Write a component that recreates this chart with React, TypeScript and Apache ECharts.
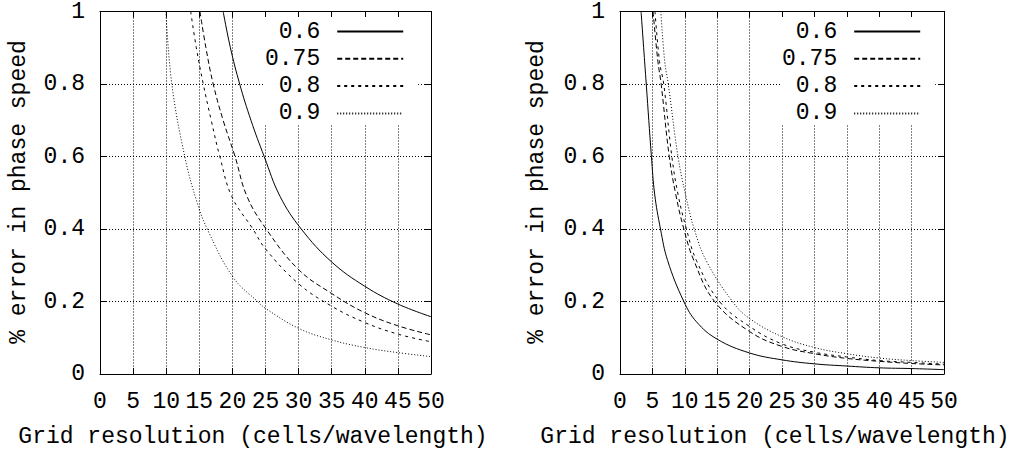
import React, { useEffect, useRef } from "react";
import * as echarts from "echarts";

// ---- data ----
const courantNumbers = ["0.6", "0.75", "0.8", "0.9"];

// Left panel: % error in phase speed vs grid resolution
const left06 = [[18.6, 1.0], [19.7, 0.9], [21.1, 0.8], [22.8, 0.7], [24.8, 0.6], [27.2, 0.49], [30.4, 0.4], [35, 0.309], [40, 0.242], [45, 0.193], [50, 0.158]];
const left075 = [[15.1, 1.0], [16.0, 0.9], [17.1, 0.8], [18.6, 0.7], [20.4, 0.6], [22.2, 0.49], [25.1, 0.4], [30, 0.288], [35, 0.222], [40, 0.169], [45, 0.133], [50, 0.108]];
const left08 = [[13.7, 1.0], [14.55, 0.9], [15.6, 0.8], [16.8, 0.7], [18.1, 0.6], [19.9, 0.49], [23.1, 0.4], [25, 0.345], [30, 0.249], [35, 0.187], [40, 0.142], [45, 0.11], [50, 0.089]];
const left09 = [[9.95, 1.0], [10.85, 0.8], [12.8, 0.6], [14.6, 0.477], [16.2, 0.4], [20.1, 0.267], [23.8, 0.2], [25, 0.181], [30, 0.126], [35, 0.094], [40, 0.073], [45, 0.059], [50, 0.048]];

// Right panel
const right06 = [[3.25, 1.0], [3.65, 0.9], [4.05, 0.8], [4.85, 0.6], [5.35, 0.496], [6.25, 0.4], [7.35, 0.313], [9.85, 0.2], [11.8, 0.144], [15, 0.096], [20, 0.058], [25, 0.039], [30, 0.028], [35, 0.022], [40, 0.017], [45, 0.015], [50, 0.012]];
const right075 = [[5.1, 1.0], [5.85, 0.862], [6.35, 0.8], [7.6, 0.6], [8.6, 0.496], [9.85, 0.4], [11.4, 0.313], [14.6, 0.2], [20, 0.117], [25, 0.076], [30, 0.056], [35, 0.043], [40, 0.035], [45, 0.029], [50, 0.025]];
const right08 = [[5.4, 1.0], [6.1, 0.862], [6.75, 0.8], [8.0, 0.6], [8.95, 0.496], [10.25, 0.4], [11.8, 0.313], [15.35, 0.2], [20, 0.131], [25, 0.083], [30, 0.06], [35, 0.047], [40, 0.037], [45, 0.032], [50, 0.027]];
const right09 = [[6.3, 1.0], [6.9, 0.862], [7.45, 0.8], [8.95, 0.6], [10.1, 0.496], [11.45, 0.4], [13.3, 0.313], [17.35, 0.2], [20, 0.153], [25, 0.103], [30, 0.073], [35, 0.056], [40, 0.044], [45, 0.037], [50, 0.032]];

const xRange = { min: 0, max: 50, interval: 5 };
const yRange = { min: 0, max: 1, interval: 0.2 };

const xTitle = "Grid resolution (cells/wavelength)";
const yTitle = "% error in phase speed";

// ---- styles ----
const FONT = "'Liberation Mono', 'Courier New', monospace";
const FS = 23;
const dashes: any[] = ["solid", [5, 3], [3, 4], [1, 2]];

export default function App() {
  const ref = useRef<HTMLDivElement>(null);

  useEffect(() => {
    if (!ref.current) return;
    const chart = echarts.init(ref.current, null, { renderer: "svg" });

    const grids = [
      { left: 100, top: 10, width: 331, height: 364 },
      { left: 620, top: 10, width: 324, height: 364 },
    ];

    const mkX = (gi: number, pos: "bottom" | "top") => ({
      type: "value",
      gridIndex: gi,
      position: pos,
      ...xRange,
      axisLine: { show: true, onZero: false, lineStyle: { color: "#000", width: 1 } },
      axisTick: { show: true, inside: true, length: 6, lineStyle: { color: "#000" } },
      axisLabel: pos === "bottom"
        ? { show: true, color: "#000", fontFamily: FONT, fontSize: FS, margin: 16 }
        : { show: false },
      splitLine: pos === "bottom"
        ? { show: true, lineStyle: { color: "#000", width: 1, type: [1, 2] } }
        : { show: false },
    });
    const mkY = (gi: number, pos: "left" | "right") => ({
      type: "value",
      gridIndex: gi,
      position: pos,
      ...yRange,
      axisLine: { show: true, onZero: false, lineStyle: { color: "#000", width: 1 } },
      axisTick: { show: true, inside: true, length: 6, lineStyle: { color: "#000" } },
      axisLabel: pos === "left"
        ? { show: true, color: "#000", fontFamily: FONT, fontSize: FS, margin: 15 }
        : { show: false },
      splitLine: pos === "left"
        ? { show: true, lineStyle: { color: "#000", width: 1, type: [1, 2] } }
        : { show: false },
    });

    const leftData = [left06, left075, left08, left09];
    const rightData = [right06, right075, right08, right09];

    const mkSeries = (datas: number[][][], xi: number, yi: number) =>
      datas.map((d, i) => ({
        type: "line",
        name: courantNumbers[i],
        xAxisIndex: xi,
        yAxisIndex: yi,
        data: d,
        symbol: "none",
        showSymbol: false,
        smooth: 0.4,
        clip: true,
        lineStyle: { color: "#000", width: 1, type: dashes[i] },
        itemStyle: { color: "#000" },
      }));

    const mkLegend = (left: number) => ({
      data: courantNumbers,
      orient: "vertical",
      align: "right",
      left,
      top: 17,
      padding: [3, 14, 0, 0],
      backgroundColor: "#fff",
      itemWidth: 66,
      itemHeight: 14,
      itemGap: 4.3,
      selectedMode: false,
      itemStyle: { opacity: 0 },
      textStyle: { fontFamily: FONT, fontSize: FS, color: "#000", lineHeight: 20, padding: [0, 12, 0, 0] },
    });

    const titleStyle = { fontFamily: FONT, fontSize: FS, fill: "#000" };

    chart.setOption({
      animation: false,
      backgroundColor: "#fff",
      grid: grids,
      xAxis: [mkX(0, "bottom"), mkX(0, "top"), mkX(1, "bottom"), mkX(1, "top")],
      yAxis: [mkY(0, "left"), mkY(0, "right"), mkY(1, "left"), mkY(1, "right")],
      legend: [mkLegend(265), mkLegend(782)],
      series: [...mkSeries(leftData, 0, 0), ...mkSeries(rightData, 2, 2)],
      graphic: [
        { type: "text", x: 253, y: 437, style: { ...titleStyle, text: xTitle, textAlign: "center", textVerticalAlign: "middle" } },
        { type: "text", x: 775, y: 437, style: { ...titleStyle, text: xTitle, textAlign: "center", textVerticalAlign: "middle" } },
        { type: "text", x: 19, y: 192, rotation: Math.PI / 2, style: { ...titleStyle, text: yTitle, textAlign: "center", textVerticalAlign: "middle" } },
        { type: "text", x: 537, y: 192, rotation: Math.PI / 2, style: { ...titleStyle, text: yTitle, textAlign: "center", textVerticalAlign: "middle" } },
      ],
    });

    return () => chart.dispose();
  }, []);

  return (
    <div
      ref={ref}
      style={{ position: "fixed", left: 0, top: 0, width: 1032, height: 454, background: "#fff" }}
    />
  );
}
